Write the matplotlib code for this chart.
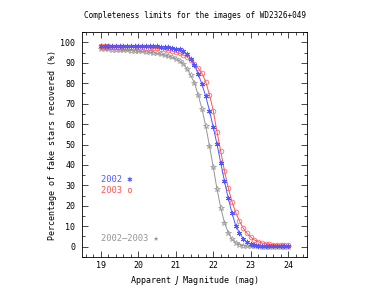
import matplotlib
matplotlib.use("Agg")
import matplotlib.pyplot as plt
from matplotlib.ticker import MultipleLocator

mag = [19.0, 19.1, 19.2, 19.3, 19.4, 19.5, 19.6, 19.7, 19.8, 19.9,
       20.0, 20.1, 20.2, 20.3, 20.4, 20.5, 20.6, 20.7, 20.8, 20.9,
       21.0, 21.1, 21.2, 21.3, 21.4, 21.5, 21.6, 21.7, 21.8, 21.9,
       22.0, 22.1, 22.2, 22.3, 22.4, 22.5, 22.6, 22.7, 22.8, 22.9,
       23.0, 23.1, 23.2, 23.3, 23.4, 23.5, 23.6, 23.7, 23.8, 23.9, 24.0]

c2002 = [98.3, 98.3, 98.3, 98.3, 98.3, 98.3, 98.3, 98.2, 98.2, 98.2,
         98.2, 98.2, 98.1, 98.1, 98.1, 98.0, 97.9, 97.8, 97.6, 97.3,
         96.9, 96.5, 95.8, 94.2, 92.0, 89.0, 84.4, 79.5, 73.6, 66.5,
         58.5, 50.2, 41.0, 32.0, 23.8, 16.4, 10.3, 6.7, 4.0, 2.2,
         1.3, 0.8, 0.5, 0.3, 0.2, 0.2, 0.1, 0.1, 0.1, 0.1, 0.1]

c2003 = [98.0, 98.0, 98.0, 97.9, 97.9, 97.9, 97.8, 97.8, 97.7, 97.7,
         97.6, 97.5, 97.4, 97.3, 97.2, 97.0, 96.8, 96.5, 96.1, 95.7,
         95.2, 94.6, 93.8, 92.8, 91.4, 89.5, 87.3, 84.8, 80.6, 74.3,
         66.6, 56.2, 46.7, 37.0, 28.8, 22.0, 16.8, 12.5, 9.1, 6.5,
         4.7, 3.3, 2.4, 1.8, 1.4, 1.1, 1.0, 0.9, 0.8, 0.7, 0.7]

c_both = [96.6, 96.5, 96.5, 96.4, 96.3, 96.2, 96.1, 96.0, 95.9, 95.8,
          95.6, 95.5, 95.3, 95.1, 94.9, 94.6, 94.2, 93.8, 93.3, 92.7,
          92.0, 91.0, 89.5, 87.0, 83.8, 80.0, 74.2, 67.3, 59.0, 49.3,
          39.0, 28.2, 19.1, 11.8, 6.9, 3.7, 2.0, 1.0, 0.5, 0.3,
          0.2, 0.1, 0.1, 0.0, 0.0, 0.0, 0.0, 0.0, 0.0, 0.0, 0.0]

blue = '#5555ff'
red = '#ff5555'
grey = '#959595'

plt.rcParams['font.family'] = 'DejaVu Sans Mono'

fig = plt.figure(figsize=(3.89, 2.89), dpi=100)
ax = fig.add_axes([0.211, 0.111, 0.578, 0.778])

ax.plot(mag, c_both, '-', color=grey, lw=0.7, marker='*', ms=4,
        mfc='none', mec=grey, mew=0.5)
ax.plot(mag, c2003, '-', color=red, lw=0.7, marker='o', ms=3.4,
        mfc='none', mec=red, mew=0.5)
ax.plot(mag, c2002, '-', color=blue, lw=0.7, marker=(6, 2, 0), ms=3.8,
        mec=blue, mew=0.7)

ax.text(19.0, 33, '2002 \u2731', color=blue, fontsize=6.3, va='center')
ax.text(19.0, 27.3, '2003 o', color=red, fontsize=6.3, va='center')
ax.text(19.0, 3.9, '2002\u20132003 \u2605', color=grey, fontsize=6.3, va='center')

ax.set_xlim(18.5, 24.5)
ax.set_ylim(-5, 105)
ax.xaxis.set_major_locator(MultipleLocator(1))
ax.xaxis.set_minor_locator(MultipleLocator(0.2))
ax.yaxis.set_major_locator(MultipleLocator(10))
ax.yaxis.set_minor_locator(MultipleLocator(5))
ax.tick_params(which='both', direction='in', top=True, right=True,
               labelsize=6, width=0.5)
ax.tick_params(which='major', length=4)
ax.tick_params(axis='x', which='major', pad=3)
ax.tick_params(axis='y', which='major', pad=5)
ax.tick_params(which='minor', length=2)
for s in ax.spines.values():
    s.set_linewidth(0.6)

ax.set_title('Completeness limits for the images of WD2326+049',
             fontsize=5.5, pad=10)
ax.set_xlabel('Apparent $J$ Magnitude (mag)', fontsize=6, labelpad=3)
ax.set_ylabel('Percentage of fake stars recovered (%)', fontsize=6, labelpad=2)

fig.savefig('out.png', dpi=100)
